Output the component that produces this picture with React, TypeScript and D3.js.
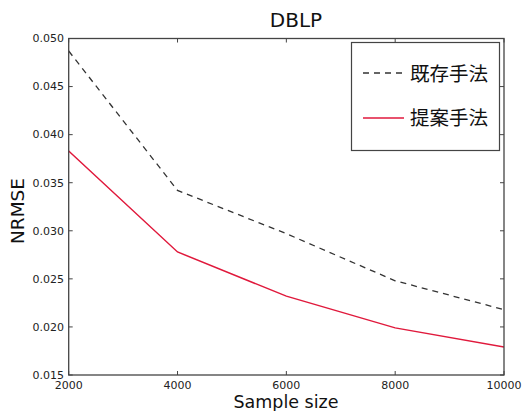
import React from "react";
import * as d3 from "d3";

const sampleSizes = [2000, 4000, 6000, 8000, 10000];
const existing = [0.0487, 0.0342, 0.0297, 0.0248, 0.0218];
const proposed = [0.0383, 0.0278, 0.0232, 0.0199, 0.0179];
const yTicks = [0.015, 0.02, 0.025, 0.03, 0.035, 0.04, 0.045, 0.05];
const xTicks = [2000, 4000, 6000, 8000, 10000];
const legendLabels = ["既存手法", "提案手法"];

const W = 523, H = 411;
const left = 68.7, right = 504, top = 38.5, bottom = 375;

export default function App() {
  const x = d3.scaleLinear().domain([2000, 10000]).range([left, right]);
  const y = d3.scaleLinear().domain([0.015, 0.05]).range([bottom, top]);
  const line = d3.line<number>().x((_, i) => x(sampleSizes[i])).y((d) => y(d));
  const font = "DejaVu Sans, sans-serif";
  const axisCol = "#444";
  const red = "#e0193c";
  return (
    <svg width={W} height={H} style={{ position: "absolute", left: 0, top: 0, background: "#fff" }}>
      <rect x={0} y={0} width={W} height={H} fill="#fff" />
      <text x={296} y={27} textAnchor="middle" fontFamily={font} fontSize={20} fill="#111">DBLP</text>
      <defs>
        <clipPath id="plot"><rect x={left} y={top} width={right - left} height={bottom - top} /></clipPath>
      </defs>
      <g clipPath="url(#plot)">
        <path d={line(existing) || ""} fill="none" stroke="#333" strokeWidth={1.3} strokeDasharray="6,5" />
        <path d={line(proposed) || ""} fill="none" stroke={red} strokeWidth={1.5} />
      </g>
      {xTicks.map((t) => (
        <g key={"x" + t}>
          <line x1={x(t)} x2={x(t)} y1={bottom} y2={bottom - 4} stroke={axisCol} />
          <line x1={x(t)} x2={x(t)} y1={top} y2={top + 4} stroke={axisCol} />
          <text x={x(t)} y={389} textAnchor="middle" fontFamily={font} fontSize={11} fill="#222">{t}</text>
        </g>
      ))}
      {yTicks.map((t) => (
        <g key={"y" + t}>
          <line x1={left} x2={left + 4} y1={y(t)} y2={y(t)} stroke={axisCol} />
          <line x1={right} x2={right - 4} y1={y(t)} y2={y(t)} stroke={axisCol} />
          <text x={64} y={y(t)} dy="0.35em" textAnchor="end" fontFamily={font} fontSize={11} fill="#222">{d3.format(".3f")(t)}</text>
        </g>
      ))}
      <rect x={left} y={top} width={right - left} height={bottom - top} fill="none" stroke={axisCol} strokeWidth={1.3} />
      <text x={286} y={408} textAnchor="middle" fontFamily={font} fontSize={17.5} fill="#111">Sample size</text>
      <text transform="translate(24,211) rotate(-90)" textAnchor="middle" fontFamily={font} fontSize={18.5} fill="#111">NRMSE</text>
      <rect x={351.5} y={42.5} width={148} height={108} fill="#fff" stroke="#444" strokeWidth={1.2} />
      <line x1={363} x2={404} y1={73} y2={73} stroke="#333" strokeWidth={1.3} strokeDasharray="6,5" />
      <line x1={363} x2={404} y1={118} y2={118} stroke={red} strokeWidth={1.5} />
      <text x={410} y={74} dy="0.35em" fontFamily="Noto Sans CJK JP, sans-serif" fontSize={19.5} fill="#111">{legendLabels[0]}</text>
      <text x={410} y={118} dy="0.35em" fontFamily="Noto Sans CJK JP, sans-serif" fontSize={19.5} fill="#111">{legendLabels[1]}</text>
    </svg>
  );
}
